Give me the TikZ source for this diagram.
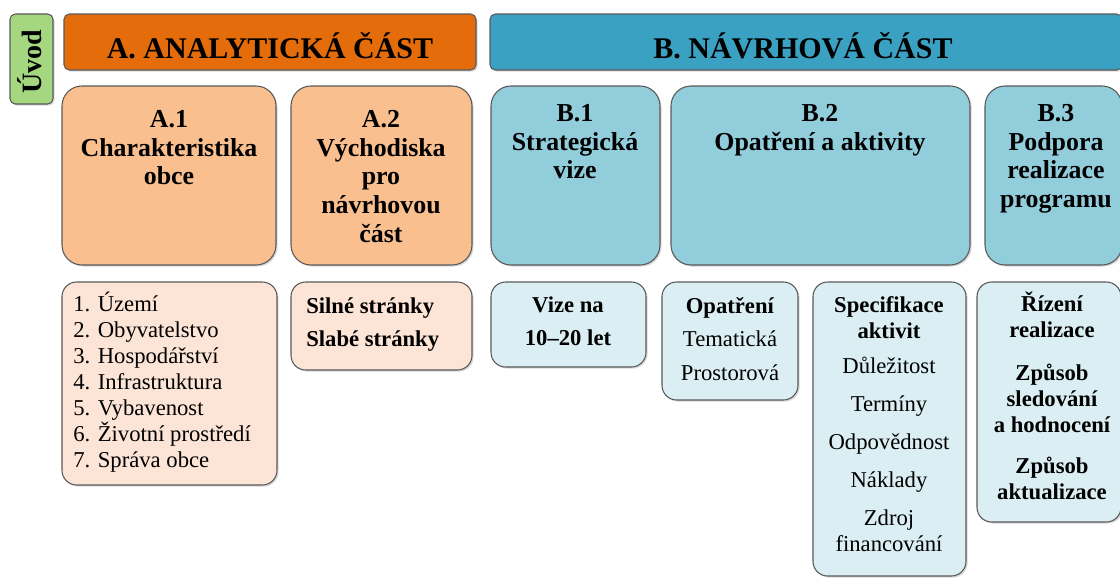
\documentclass[tikz,border=0pt]{standalone}
\usepackage{fontspec}
\setmainfont{LiberationSerif}[Extension=.ttf, UprightFont=*-Regular, BoldFont=*-Bold,
   ItalicFont=*-Italic, BoldItalicFont=*-BoldItalic]
\usetikzlibrary{shadows}
\definecolor{uvodgreen}{HTML}{A4D77F}
\definecolor{aorange}{HTML}{E46C0A}
\definecolor{alight}{HTML}{F9BF8F}
\definecolor{apale}{HTML}{FCE4D6}
\definecolor{bteal}{HTML}{3AA1C2}
\definecolor{blight}{HTML}{92CDDC}
\definecolor{bpale}{HTML}{DAEEF3}
\definecolor{boxline}{HTML}{595959}
\tikzset{
   box/.style={draw=boxline, line width=0.8pt,
      drop shadow={shadow xshift=1.2pt, shadow yshift=-1.2pt, opacity=0.3}},
   header/.style={box, rounded corners=4pt},
   partbox/.style={box, rounded corners=15pt},
   itembox/.style={box, rounded corners=11pt},
   headtext/.style={anchor=base, inner sep=0pt,
      font=\bfseries\fontsize{22.5}{26}\selectfont},
   uvodtext/.style={anchor=base, inner sep=0pt, rotate=90,
      font=\bfseries\fontsize{21}{24}\selectfont},
   parttext/.style={anchor=north, align=center, inner sep=0pt,
      font=\bfseries\fontsize{19.4}{21.5}\selectfont},
   itemtext/.style={anchor=north, align=center, inner sep=0pt,
      font=\fontsize{17}{19.5}\selectfont},
   listtext/.style={itemtext, anchor=north west, align=left},
}
\begin{document}
\begin{tikzpicture}[x=0.75pt, y=-0.75pt]
\useasboundingbox (0,0) rectangle (1120,578);

% header row
\draw[header, fill=uvodgreen] (10,14) rectangle (53,104);
\node[uvodtext] (uvod) at (41,61.5) {Úvod};
\draw[header, fill=aorange] (64,14) rectangle (476,70);
\node[headtext] (ahead) at (270,58) {A. ANALYTICKÁ ČÁST};
\draw[header, fill=bteal] (490,14) rectangle (1122,70);
\node[headtext] (bhead) at (803,58) {B. NÁVRHOVÁ ČÁST};

% chapters
\draw[partbox, fill=alight] (62,86) rectangle (276,265);
\node[parttext] (a1) at (169,110) {A.1\\Charakteristika\\obce};
\draw[partbox, fill=alight] (291,86) rectangle (472,265);
\node[parttext] (a2) at (381,110) {A.2\\Východiska\\pro\\návrhovou\\část};
\draw[partbox, fill=blight] (491,86) rectangle (660,265);
\node[parttext] (b1) at (575,104) {B.1\\Strategická\\vize};
\draw[partbox, fill=blight] (671,86) rectangle (970,265);
\node[parttext] (b2) at (820,104) {B.2\\Opatření a aktivity};
\draw[partbox, fill=blight] (985,86) rectangle (1122,265);
\node[parttext] (b3) at (1056,104) {B.3\\Podpora\\realizace\\programu};

% contents
\draw[itembox, fill=apale] (62,282) rectangle (277,485);
\node[listtext] (alist) at (73,292) {1. Území\\2. Obyvatelstvo\\3. Hospodářství\\4. Infrastruktura\\5. Vybavenost\\6. Životní prostředí\\7. Správa obce};
\draw[itembox, fill=apale] (291,282) rectangle (472,370);
\node[listtext, font=\bfseries\fontsize{17}{19.5}\selectfont] (swot) at (306,297) {Silné stránky\\[5.25pt]Slabé stránky};
\draw[itembox, fill=bpale] (491,282) rectangle (646,367);
\node[itemtext, font=\bfseries\fontsize{17}{19.5}\selectfont] (vize) at (568,297) {Vize na\\[5.25pt]10–20 let};
\draw[itembox, fill=bpale] (662,282) rectangle (798,400);
\node[itemtext] (opatreni) at (730,297) {\textbf{Opatření}\\[5.6pt]Tematická\\[5.6pt]Prostorová};
\draw[itembox, fill=bpale] (813,282) rectangle (966,576);
\node[itemtext] (aktivity) at (889,296) {\textbf{Specifikace}\\\textbf{aktivit}\\[6.75pt]Důležitost\\[9pt]Termíny\\[9pt]Odpovědnost\\[9pt]Náklady\\[9pt]Zdroj\\financování};
\draw[itembox, fill=bpale] (977,282) rectangle (1121,522);
\node[itemtext, font=\bfseries\fontsize{17}{19.5}\selectfont] (rizeni) at (1052,292) {Řízení\\realizace\\[12.75pt]Způsob\\sledování\\a hodnocení\\[11.25pt]Způsob\\aktualizace};

\end{tikzpicture}
\end{document}
